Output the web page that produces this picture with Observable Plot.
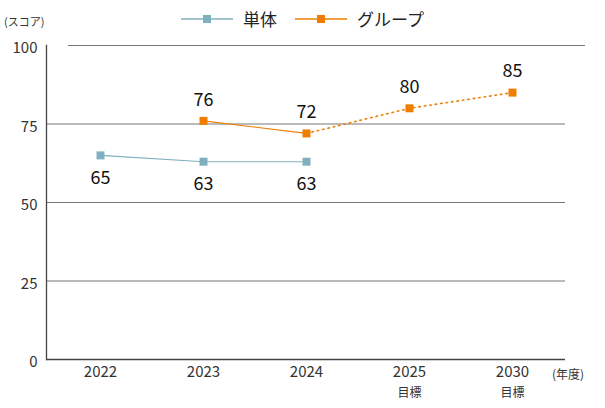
<!DOCTYPE html>
<html>
<head>
<meta charset="utf-8">
<script src="https://cdn.jsdelivr.net/npm/d3@7"></script>
<script src="https://cdn.jsdelivr.net/npm/@observablehq/plot@0.6"></script>
<style>
  body { margin: 0; background: #fff; font-family: "Noto Sans CJK JP", "Noto Sans", sans-serif; }
  #wrap { position: relative; width: 605px; height: 408px; }
  #legend { position: absolute; top: 6px; left: 0; width: 605px; display: flex; justify-content: center; align-items: center; gap: 18px; font-size: 17px; color: #222; }
  .item { display: flex; align-items: center; gap: 10px; }
  #unit { position: absolute; left: 4px; top: 13px; font-size: 11px; color: #333; }
  #xunit { position: absolute; left: 552px; top: 365px; font-size: 12px; color: #333; }
</style>
</head>
<body>
<div id="wrap">
  <div id="legend"></div>
  <div id="unit">(スコア)</div>
  <div id="xunit">(年度)</div>
  <div id="chart"></div>
</div>
<script>
const years = ["2022", "2023", "2024", "2025", "2030"];
const targetLabels = ["", "", "", "目標", "目標"];
const singleValues = [65, 63, 63, null, null];
const groupValues = [null, 76, 72, 80, 85];
const seriesNames = ["単体", "グループ"];
const seriesColors = ["#7fb0bf", "#ee7d00"];
const yTicks = [0, 25, 50, 75, 100];

const single = years.map((y, i) => ({year: y, value: singleValues[i]})).filter(d => d.value != null);
const group = years.map((y, i) => ({year: y, value: groupValues[i]})).filter(d => d.value != null);
const groupActual = group.filter(d => d.year <= "2024");
const groupTarget = group.filter(d => d.year >= "2024");
const targets = years.map((y, i) => ({year: y, label: targetLabels[i]})).filter(d => d.label);

const chart = Plot.plot({
  width: 605,
  height: 408,
  marginLeft: 46,
  marginRight: 40,
  marginTop: 45,
  marginBottom: 49,
  style: {fontFamily: '"Noto Sans CJK JP", "Noto Sans", sans-serif', background: "transparent"},
  x: {type: "point", domain: years, padding: 0.5, label: null},
  y: {domain: [0, 100], label: null},
  marks: [
    Plot.ruleY([25, 50, 75], {stroke: "#777", strokeWidth: 1}),
    Plot.ruleY([100], {stroke: "#777", strokeWidth: 1, insetLeft: 22, insetRight: -20}),
    Plot.ruleY([0], {stroke: "#444", strokeWidth: 1.3}),
    Plot.frame({anchor: "left", stroke: "#444", strokeWidth: 1.3}),
    Plot.axisY({ticks: yTicks, tickSize: 0, tickPadding: 9, dy: 3, fontSize: 15, fill: "#333", label: null}),
    Plot.axisX({tickSize: 0, tickPadding: 7, fontSize: 15, fill: "#333", label: null}),
    Plot.text(targets, {x: "year", text: "label", frameAnchor: "bottom", dy: 37, fontSize: 12, fill: "#333"}),
    Plot.line(single, {x: "year", y: "value", stroke: seriesColors[0], strokeWidth: 1.1}),
    Plot.line(groupActual, {x: "year", y: "value", stroke: seriesColors[1], strokeWidth: 1.1}),
    Plot.line(groupTarget, {x: "year", y: "value", stroke: seriesColors[1], strokeWidth: 1.6, strokeDasharray: "1.5,4"}),
    Plot.dot(single, {x: "year", y: "value", symbol: "square", r: 4.5, fill: seriesColors[0]}),
    Plot.dot(group, {x: "year", y: "value", symbol: "square", r: 4.5, fill: seriesColors[1]}),
    Plot.text(single, {x: "year", y: "value", text: "value", dy: 23, fontSize: 18, fill: "#111"}),
    Plot.text(group, {x: "year", y: "value", text: "value", dy: -21, fontSize: 18, fill: "#111"})
  ]
});
document.getElementById("chart").appendChild(chart);

const legend = document.getElementById("legend");
seriesNames.forEach((name, i) => {
  const item = document.createElement("div");
  item.className = "item";
  item.innerHTML = `<svg width="52" height="10"><line x1="0" x2="52" y1="5" y2="5" stroke="${seriesColors[i]}" stroke-width="1.5"/><rect x="22" y="1" width="8" height="8" fill="${seriesColors[i]}"/></svg><span>${name}</span>`;
  legend.appendChild(item);
});
</script>
</body>
</html>
